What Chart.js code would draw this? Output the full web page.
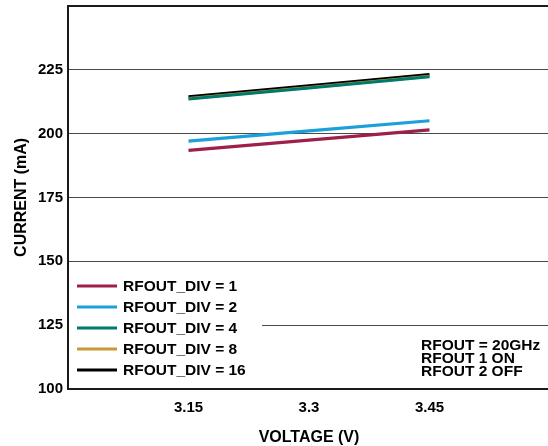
<!DOCTYPE html>
<html>
<head>
<meta charset="utf-8">
<script src="https://cdn.jsdelivr.net/npm/chart.js@4.4.1/dist/chart.umd.min.js"></script>
<style>
  html, body { margin: 0; padding: 0; overflow: hidden; background: #fff; }
  canvas { display: block; }
</style>
</head>
<body>
<canvas id="chart" width="552" height="446"></canvas>
<script>
// Supply current vs. supply voltage for each output divider setting
const voltages = [3.15, 3.3, 3.45];
const divLabels = ['RFOUT_DIV = 1', 'RFOUT_DIV = 2', 'RFOUT_DIV = 4', 'RFOUT_DIV = 8', 'RFOUT_DIV = 16'];
const div1 = [193.4, 197.4, 201.4];
const div2 = [197.0, 201.0, 205.0];
const div4 = [213.5, 217.8, 222.2];
const div8 = [213.7, 218.0, 222.4];
const div16 = [214.3, 218.7, 223.1];
const xTickValues = [3.15, 3.3, 3.45];
const yTickLabels = [100, 125, 150, 175, 200, 225];
const conditionLines = ['RFOUT = 20GHz', 'RFOUT 1 ON', 'RFOUT 2 OFF'];

const seriesValues = [div1, div2, div4, div8, div16];
const seriesColors = ['#9E1F4B', '#1CA0DA', '#007A6C', '#C59A33', '#000000'];

const FONT = '"Liberation Sans", Arial, Helvetica, sans-serif';

const datasets = seriesValues.map((vals, i) => ({
  label: divLabels[i],
  data: voltages.map((v, j) => ({ x: v, y: vals[j] })),
  borderColor: seriesColors[i],
  backgroundColor: seriesColors[i],
  borderWidth: 3.2,
  pointRadius: 0,
  tension: 0,
  fill: false
}));

// Legend drawn inside the plot, lower left, on a white panel
const insideLegend = {
  id: 'insideLegend',
  afterDatasetsDraw(chart) {
    const { ctx, chartArea } = chart;
    ctx.save();
    ctx.fillStyle = '#ffffff';
    ctx.fillRect(chartArea.left + 1, 267, 193, chartArea.bottom - 1 - 267);
    ctx.font = 'bold 15.5px ' + FONT;
    ctx.textBaseline = 'middle';
    ctx.textAlign = 'left';
    chart.data.datasets.forEach((ds, i) => {
      const y = 286 + i * 21;
      ctx.strokeStyle = ds.borderColor;
      ctx.lineWidth = 3;
      ctx.beginPath();
      ctx.moveTo(77, y);
      ctx.lineTo(117, y);
      ctx.stroke();
      ctx.fillStyle = '#000';
      ctx.fillText(ds.label, 123, y + 1);
    });
    ctx.restore();
  }
};

// Test conditions note, lower right
const conditionNote = {
  id: 'conditionNote',
  afterDatasetsDraw(chart) {
    const { ctx } = chart;
    ctx.save();
    ctx.font = 'bold 15.5px ' + FONT;
    ctx.textBaseline = 'middle';
    ctx.textAlign = 'left';
    ctx.fillStyle = '#000';
    conditionLines.forEach((t, i) => ctx.fillText(t, 421, 346 + i * 13));
    ctx.restore();
  }
};

new Chart(document.getElementById('chart'), {
  type: 'line',
  data: { datasets },
  options: {
    responsive: false,
    animation: false,
    layout: { padding: { top: 5, right: 2, left: 0, bottom: 0 } },
    plugins: { legend: { display: false }, tooltip: { enabled: false } },
    scales: {
      x: {
        type: 'linear',
        min: 3.0,
        max: 3.6,
        afterBuildTicks(scale) { scale.ticks = xTickValues.map(v => ({ value: v })); },
        afterFit(scale) { scale.height = 57; },
        grid: { display: false, drawTicks: false },
        border: { display: true, color: '#1a1a1a', width: 2 },
        ticks: {
          padding: 10,
          color: '#000',
          font: { family: FONT, size: 15, weight: 'bold' },
          callback: v => String(v)
        },
        title: {
          display: true,
          text: 'VOLTAGE (V)',
          color: '#000',
          font: { family: FONT, size: 16, weight: 'bold', lineHeight: 1.1 },
          padding: { top: 0, bottom: 0 }
        }
      },
      y: {
        min: 100,
        max: 250,
        ticks: {
          stepSize: 25,
          padding: 5,
          color: '#000',
          font: { family: FONT, size: 15, weight: 'bold', lineHeight: 0.1 },
          callback: v => (yTickLabels.includes(v) ? String(v) : '')
        },
        afterFit(scale) { scale.width = 68; },
        grid: {
          drawTicks: false,
          color: ctx => (ctx.tick && ctx.tick.value === 250 ? '#1a1a1a' : '#4a4a4a'),
          lineWidth: ctx => (ctx.tick && ctx.tick.value === 250 ? 2 : 1)
        },
        border: { display: true, color: '#1a1a1a', width: 2 },
        title: {
          display: true,
          text: 'CURRENT (mA)',
          color: '#000',
          font: { family: FONT, size: 16, weight: 'bold' },
          padding: { top: 12, bottom: 0 }
        }
      }
    }
  },
  plugins: [insideLegend, conditionNote]
});
</script>
</body>
</html>
